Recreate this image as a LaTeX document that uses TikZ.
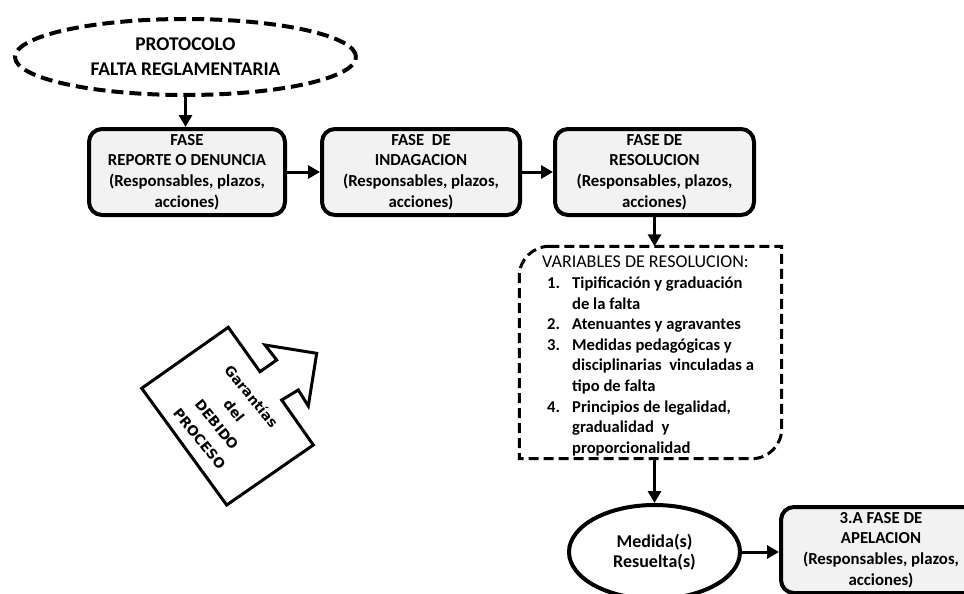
\documentclass[tikz,border=0pt]{standalone}
\usepackage{fontspec}
\setmainfont{Carlito}
\newfontfamily\gfont{DejaVu Sans}
\usetikzlibrary{arrows.meta,shapes.geometric}
\definecolor{boxgray}{HTML}{F2F2F2}
\tikzset{
  phase/.style={draw, line width=4pt, rounded corners=13pt, fill=boxgray,
    minimum height=86pt, inner sep=0pt, align=center,
    font=\fontsize{16.8}{20.8}\selectfont\bfseries},
  flow/.style={-{Triangle[length=12pt,width=13pt]}, line width=3pt},
  dashellipse/.style={draw, ellipse, line width=4pt, dash pattern=on 12pt off 6pt,
    inner sep=0pt, align=center, font=\fontsize{19.4}{25}\selectfont\bfseries},
  dashbox/.style={line width=3pt, dash pattern=on 10pt off 5pt},
}
\begin{document}
\begin{tikzpicture}[x=1pt,y=-1pt]
\useasboundingbox (0,0) rectangle (964,594);
% top ellipse
\node[dashellipse, minimum width=341pt, minimum height=76pt] (e1) at (185.5,57)
  {PROTOCOLO\\FALTA REGLAMENTARIA};
% phase boxes
\node[phase, minimum width=196pt] (b1) at (187,172)
  {FASE\\REPORTE O DENUNCIA\\(Responsables, plazos,\\acciones)};
\node[phase, minimum width=198pt] (b2) at (421,172)
  {FASE\ \ DE\\INDAGACION\\(Responsables, plazos,\\acciones)};
\node[phase, minimum width=199pt] (b3) at (654.5,172)
  {FASE DE\\RESOLUCION\\(Responsables, plazos,\\acciones)};
% variables box
\node[minimum width=262pt, minimum height=212pt, inner sep=0pt] (vars) at (650.5,352.5) {};
\node[anchor=west, inner sep=0pt, align=left,
  font=\fontsize{16.6}{20.6}\selectfont\bfseries] (varstext) at (542,356)
  {{\mdseries\fontsize{18}{20.6}\selectfont VARIABLES DE RESOLUCION:}\\
   \hspace*{5pt}\makebox[25pt][l]{1.}Tipificación y graduación\\
   \hspace*{30pt}de la falta\\
   \hspace*{5pt}\makebox[25pt][l]{2.}Atenuantes y agravantes\\
   \hspace*{5pt}\makebox[25pt][l]{3.}Medidas pedagógicas y\\
   \hspace*{30pt}disciplinarias\ \ vinculadas a\\
   \hspace*{30pt}tipo de falta\\
   \hspace*{5pt}\makebox[25pt][l]{4.}Principios de legalidad,\\
   \hspace*{30pt}gradualidad\ \ y\\
   \hspace*{30pt}proporcionalidad};
\draw[dashbox] ([xshift=30pt]vars.north west) -- (vars.north east)
  -- ([yshift=30pt]vars.south east)
  .. controls ([yshift=13.4pt]vars.south east) and ([xshift=-13.4pt]vars.south east)
  .. ([xshift=-30pt]vars.south east)
  -- (vars.south west) -- ([yshift=-30pt]vars.north west)
  .. controls ([yshift=-13.4pt]vars.north west) and ([xshift=13.4pt]vars.north west)
  .. ([xshift=30pt]vars.north west) -- cycle;
% bottom ellipse and appeal box
\node[draw, ellipse, line width=4pt, minimum width=171pt, minimum height=94pt,
  inner sep=0pt, align=center, font=\fontsize{18}{20.5}\selectfont\bfseries]
  (m) at (654.5,552) {Medida(s)\\Resuelta(s)};
\node[phase, minimum width=200pt] (b4) at (881,550)
  {3.A FASE DE\\APELACION\\(Responsables, plazos,\\acciones)};
% connectors
\draw[flow] (e1.south) -- (e1.south |- b1.north);
\draw[flow] (b1.east) -- (b2.west);
\draw[flow] (b2.east) -- (b3.west);
\draw[flow] (b3.south) -- (b3.south |- vars.north);
\draw[flow] (m.north |- vars.south) -- (m.north);
\draw[flow] (m.east) -- (m.east -| b4.west);
% Garantias arrow shape
\draw[line width=3pt, line join=miter, fill=white]
  (228.3,327.3) -- (260,371.7) -- (276.7,360) -- (265,345) -- (316.7,353.3)
  -- (308.3,406) -- (298.3,390) -- (281.7,400) -- (313.3,445) -- (226.7,505)
  -- (141.7,388.3) -- cycle;
\node[rotate=-51, align=center, inner sep=0pt,
  font=\gfont\fontsize{13.8}{22.3}\selectfont\bfseries] (gar) at (225.7,417.4)
  {Garantías\\del\\DEBIDO\\PROCESO};
\end{tikzpicture}
\end{document}
